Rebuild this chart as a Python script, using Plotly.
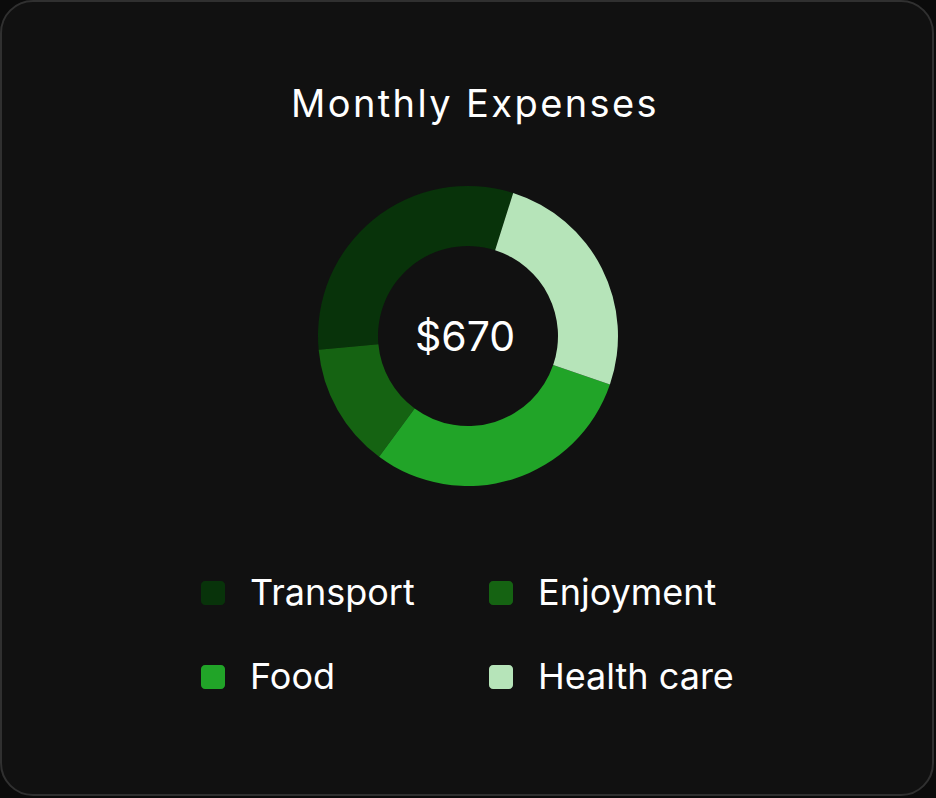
import plotly.graph_objects as go

# ---- data ----
categories = ["Transport", "Enjoyment", "Food", "Health care"]
amounts = [210, 90, 200, 170]
colors = ["#08330a", "#156312", "#21a428", "#b6e4b9"]
title_text = "Monthly Expenses"
total_label = "$" + str(sum(amounts))

W, H = 936, 798


def px(x):
    return x / W


def py(y):
    return 1 - y / H


def rrect(x0, y0, x1, y1, r):
    k = 0.5523 * r
    pts = [
        f"M{px(x0 + r)},{py(y0)}",
        f"L{px(x1 - r)},{py(y0)}",
        f"C{px(x1 - r + k)},{py(y0)} {px(x1)},{py(y0 + r - k)} {px(x1)},{py(y0 + r)}",
        f"L{px(x1)},{py(y1 - r)}",
        f"C{px(x1)},{py(y1 - r + k)} {px(x1 - r + k)},{py(y1)} {px(x1 - r)},{py(y1)}",
        f"L{px(x0 + r)},{py(y1)}",
        f"C{px(x0 + r - k)},{py(y1)} {px(x0)},{py(y1 - r + k)} {px(x0)},{py(y1 - r)}",
        f"L{px(x0)},{py(y0 + r)}",
        f"C{px(x0)},{py(y0 + r - k)} {px(x0 + r - k)},{py(y0)} {px(x0 + r)},{py(y0)}",
        "Z",
    ]
    return " ".join(pts)


FONT = "Inter, 'Noto Sans', sans-serif"

fig = go.Figure(
    go.Pie(
        labels=categories,
        values=amounts,
        hole=0.6,
        sort=False,
        direction="counterclockwise",
        rotation=-95.3,
        marker=dict(colors=colors, line=dict(width=0)),
        textinfo="none",
        hoverinfo="label+value",
        showlegend=False,
        domain=dict(x=[px(318), px(618)], y=[py(486), py(186)]),
    )
)

shapes = [
    dict(
        type="path",
        xref="paper",
        yref="paper",
        path=rrect(1, 1, 933, 795, 32),
        fillcolor="#111111",
        line=dict(color="#303030", width=2),
        layer="below",
    )
]

annotations = [
    dict(
        text=f"<span style='letter-spacing:2.4px'>{title_text}</span>",
        x=px(475),
        y=py(103),
        xref="paper",
        yref="paper",
        showarrow=False,
        xanchor="center",
        yanchor="middle",
        font=dict(family=FONT, size=38, color="#ffffff"),
    ),
    dict(
        text=total_label,
        x=px(464.5),
        y=py(336),
        xref="paper",
        yref="paper",
        showarrow=False,
        xanchor="center",
        yanchor="middle",
        font=dict(family=FONT, size=41, color="#ffffff"),
    ),
]

col_x = [213, 501]
row_y = [593, 677]
for i, (name, col) in enumerate(zip(categories, colors)):
    cx = col_x[i % 2]
    cy = row_y[i // 2]
    shapes.append(
        dict(
            type="path",
            xref="paper",
            yref="paper",
            path=rrect(cx - 12, cy - 12, cx + 12, cy + 12, 4),
            fillcolor=col,
            line=dict(width=0),
            layer="above",
        )
    )
    annotations.append(
        dict(
            text=name,
            x=px(cx + 34.5),
            y=py(cy - 1.5),
            xref="paper",
            yref="paper",
            showarrow=False,
            xanchor="left",
            yanchor="middle",
            font=dict(family=FONT, size=36, color="#ffffff"),
        )
    )

fig.update_layout(
    width=W,
    height=H,
    margin=dict(l=0, r=0, t=0, b=0),
    paper_bgcolor="#0b0b0b",
    plot_bgcolor="#0b0b0b",
    shapes=shapes,
    annotations=annotations,
    showlegend=False,
)

fig.write_html("out.html")
